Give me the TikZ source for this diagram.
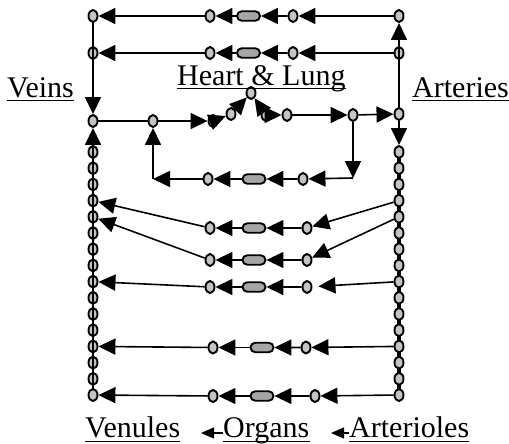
\documentclass[tikz,border=0pt]{standalone}
\usepackage{fontspec}
\setmainfont{Liberation Serif}
\usetikzlibrary{arrows.meta,shapes.geometric,shapes.misc,backgrounds}
\definecolor{cfill}{RGB}{196,196,196}
\definecolor{ofill}{RGB}{166,166,166}
\begin{document}
\begin{tikzpicture}[x=1pt,y=-1pt,
  ves/.style={ellipse,draw,fill=cfill,line width=1.9pt,minimum width=9pt,minimum height=12pt,inner sep=0pt},
  capil/.style={rounded rectangle,draw,fill=ofill,line width=1.9pt,minimum width=23pt,minimum height=9.5pt,inner sep=0pt},
  flowarr/.style={line width=1.6pt,-{Triangle[length=17pt 0,width=16pt 0]}},
  link/.style={line width=1.6pt},
  lbl/.style={font=\fontsize{30}{36}\selectfont,inner sep=0pt,anchor=base west},
  uline/.style={line width=1pt},
  smallarr/.style={line width=1.3pt,-{Triangle[length=13pt 0,width=11pt 0]}}]
\useasboundingbox (0,0) rectangle (509,444);

% columns
\foreach \k in {0,...,15}{
  \node[ves] (L\k) at (93,{152+16.2*\k}) {};
  \node[ves] (R\k) at (399,{152+16.2*\k}) {};
}
\begin{pgfonlayer}{background}
  \draw[line width=3.5pt] (R0.center) -- (R15.center);
\end{pgfonlayer}

% corners and junctions
\node[ves] (LT) at (93,16) {};
\node[ves] (LS) at (93,53) {};
\node[ves] (RT) at (399,16) {};
\node[ves] (RS) at (399,53) {};
\node[ves] (LJ) at (93,121) {};
\node[ves] (RJ) at (399,114) {};

% top rows
\node[ves] (t1) at (210,16) {};
\node[capil] (tov) at (248.5,16) {};
\node[ves] (t2) at (293,16) {};
\node[ves] (s1) at (210,53) {};
\node[capil] (sov) at (248.5,53) {};
\node[ves] (s2) at (293,53) {};

% heart & lung row
\node[ves] (h1) at (153,121) {};
\node[ves] (h2) at (213,121) {};
\node[ves] (h3) at (231,114) {};
\node[ves] (hT) at (251,93) {};
\node[ves] (h4) at (266,115) {};
\node[ves] (h5) at (287,115) {};
\node[ves] (h6) at (353,115) {};
\coordinate (lc1) at (353,178);
\coordinate (lc2) at (153,179);
\node[ves] (l1) at (303,179) {};
\node[capil] (lov) at (254,179) {};
\node[ves] (l2) at (208,179) {};

% organ rows
\node[ves] (a1) at (210,228) {};
\node[capil] (aov) at (254,228) {};
\node[ves] (a2) at (307,228) {};
\node[ves] (b1) at (210,260) {};
\node[capil] (bov) at (254,260) {};
\node[ves] (b2) at (307,260) {};
\node[ves] (c1) at (210,287) {};
\node[capil] (cov) at (254,287) {};
\node[ves] (c2) at (307,287) {};
\node[ves] (d1) at (213,347.5) {};
\node[capil] (dov) at (262,347.5) {};
\node[ves] (d2) at (306,347.5) {};
\node[ves] (e1) at (213,396) {};
\node[capil] (eov) at (262,396) {};
\node[ves] (e2) at (315,396) {};

% labels
\node[lbl] (veins) at (7,97) {Veins};
\node[lbl] (arteries) at (412,97) {Arteries};
\node[lbl] (heart) at (177,85) {Heart \& Lung};
\node[lbl] (venules) at (85,437) {Venules};
\node[lbl] (organs) at (223,437) {Organs};
\node[lbl] (arterioles) at (349,437) {Arterioles};
\foreach \n in {veins,arteries,heart,venules,organs,arterioles}{
  \draw[uline] ([yshift=-4pt]\n.base west) -- ([yshift=-4pt]\n.base east);
}
\coordinate (va) at (201,433);
\coordinate (oa) at (331,433);
\draw[smallarr] ([yshift=4pt]organs.base west) -- (va);
\draw[smallarr] ([yshift=4pt]arterioles.base west) -- (oa);

% columns connectors
\draw[flowarr] (LT) -- (LJ);
\draw[flowarr] (RJ) -- (RT);
\draw[flowarr] (L15) -- (LJ);
\draw[flowarr] (RJ) -- (R0);

% top rows
\draw[flowarr] (RT) -- (t2);
\draw[flowarr] (t2) -- (tov);
\draw[flowarr] (tov) -- (t1);
\draw[flowarr] (t1) -- (LT);
\draw[flowarr] (RS) -- (s2);
\draw[flowarr] (s2) -- (sov);
\draw[flowarr] (sov) -- (s1);
\draw[flowarr] (s1) -- (LS);

% heart row
\draw[link] (LJ) -- (h1);
\draw[flowarr] (h1) -- (h2);
\draw[flowarr] (h2) -- (h3);
\draw[flowarr] (h3) -- (hT);
\draw[flowarr] (h4) -- (hT);
\draw[flowarr] (h4) -- (h5);
\draw[flowarr] (h5) -- (h6);
\draw[flowarr] (h6) -- (RJ);
\draw[flowarr] (h6) -- (lc1);
\draw[flowarr] (lc1) -- (l1);
\draw[flowarr] (l1) -- (lov);
\draw[flowarr] (lov) -- (l2);
\draw[flowarr] (l2) -- (lc2);
\draw[flowarr] (lc2) -- (h1);

% organ rows
\draw[flowarr] (R3) -- (a2);
\draw[flowarr] (a2) -- (aov);
\draw[flowarr] (aov) -- (a1);
\draw[flowarr] (a1) -- (L3);
\draw[flowarr] (R4) -- (b2);
\draw[flowarr] (b2) -- (bov);
\draw[flowarr] (bov) -- (b1);
\draw[flowarr] (b1) -- (L4);
\draw[flowarr,shorten >=6pt] (R8) -- (c2);
\draw[flowarr] (c2) -- (cov);
\draw[flowarr] (cov) -- (c1);
\draw[flowarr] (c1) -- (L8);
\draw[flowarr] (R12) -- (d2);
\draw[flowarr] (d2) -- (dov);
\draw[flowarr] (dov) -- (d1);
\draw[flowarr] (d1) -- (L12);
\draw[flowarr] (R15) -- (e2);
\draw[flowarr] (e2) -- (eov);
\draw[flowarr] (eov) -- (e1);
\draw[flowarr] (e1) -- (L15);
\end{tikzpicture}
\end{document}
